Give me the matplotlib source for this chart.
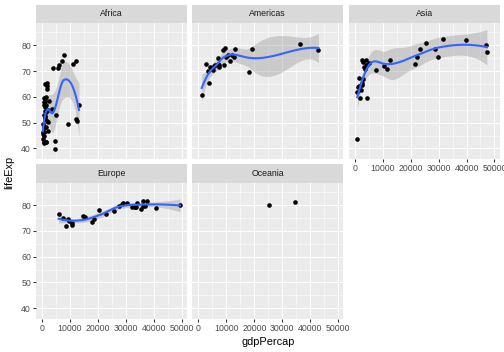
import numpy as np
import matplotlib
matplotlib.use("Agg")
import matplotlib.pyplot as plt

plt.rcParams['font.family'] = ['Liberation Sans', 'DejaVu Sans']

# gapminder 2007, gdpPercap / lifeExp per continent
africa_gdp = [6223.367, 4797.231, 1441.285, 12569.85, 1217.033, 430.07, 2042.095, 706.016,
              1704.064, 986.1479, 277.5519, 3632.558, 1544.75, 2082.482, 5581.181, 12154.09,
              641.3695, 690.8056, 13206.48, 752.7497, 1327.609, 942.6542, 579.2317, 1463.249,
              1569.331, 414.5073, 12057.5, 1044.77, 759.3499, 1042.582, 1803.151, 10956.99,
              3820.175, 823.6856, 4811.06, 619.6769, 2013.977, 7670.123, 863.0885, 1598.435,
              1712.472, 862.5408, 926.1411, 9269.658, 2602.395, 4513.481, 1107.482, 882.9699,
              7092.923, 1056.38, 1271.212, 469.7093]
africa_life = [72.301, 42.731, 56.728, 50.728, 52.295, 49.58, 50.43, 44.741,
               50.651, 65.152, 46.462, 55.322, 48.328, 54.791, 71.338, 51.579,
               58.04, 52.947, 56.735, 59.448, 60.022, 56.007, 46.388, 54.11,
               42.592, 45.678, 73.952, 59.443, 48.303, 54.467, 64.164, 72.801,
               71.164, 42.082, 52.906, 56.867, 46.859, 76.442, 46.242, 65.528,
               63.062, 42.568, 48.159, 49.339, 58.556, 39.613, 52.517, 58.42,
               73.923, 51.542, 42.384, 43.487]

americas_gdp = [12779.38, 3822.137, 9065.801, 36319.24, 13171.64, 7006.58, 9645.061, 8948.103,
                6025.375, 6873.262, 5728.354, 5186.05, 1201.637, 3548.331, 7320.88, 11977.57,
                2749.321, 9809.186, 4172.838, 7408.906, 19328.71, 18008.51, 42951.65, 10611.46,
                11415.81]
americas_life = [75.32, 65.554, 72.39, 80.653, 78.553, 72.889, 78.782, 78.273,
                 72.235, 74.994, 71.878, 70.259, 60.916, 70.198, 72.567, 76.195,
                 72.899, 75.537, 71.752, 71.421, 78.746, 69.819, 78.242, 76.384,
                 73.747]

asia_gdp = [974.5803, 29796.05, 1391.254, 1713.779, 4959.115, 39724.98, 2452.21, 3540.652,
            11605.71, 4471.062, 25523.28, 31656.07, 4519.461, 1593.065, 23348.14, 47306.99,
            10461.06, 12451.66, 3095.772, 944.0, 1091.36, 22316.19, 2605.948, 3190.481,
            21654.83, 47143.18, 3970.095, 4184.548, 28718.28, 7458.396, 2441.577, 3025.35,
            2280.77]
asia_life = [43.828, 75.635, 64.062, 59.723, 72.961, 82.208, 64.698, 70.65,
             70.964, 59.545, 80.745, 82.603, 72.535, 67.297, 78.623, 77.588,
             71.993, 74.241, 66.803, 62.069, 63.785, 75.64, 65.483, 71.688,
             72.777, 79.972, 72.396, 74.143, 78.4, 70.616, 74.249, 73.422,
             62.698]

europe_gdp = [5937.03, 36126.49, 33692.61, 7446.299, 10680.79, 14619.22, 22833.31, 35278.42,
              33207.08, 30470.02, 32170.37, 27538.41, 18008.94, 36180.79, 40676.0, 28569.72,
              9253.896, 36797.93, 49357.19, 15389.92, 20509.65, 10808.48, 9786.535, 18678.31,
              25768.26, 28821.06, 33859.75, 37506.42, 8458.276, 33203.26]
europe_life = [76.423, 79.829, 79.441, 74.852, 73.005, 75.748, 76.486, 78.332,
               79.313, 80.657, 79.406, 79.483, 73.338, 81.757, 78.885, 80.546,
               74.543, 79.762, 80.196, 75.563, 78.098, 72.476, 74.002, 74.663,
               77.926, 80.941, 80.884, 81.701, 71.777, 79.425]

oceania_gdp = [34435.37, 25185.01]
oceania_life = [81.235, 80.204]

continents = ["Africa", "Americas", "Asia", "Europe", "Oceania"]
gdp = [africa_gdp, americas_gdp, asia_gdp, europe_gdp, oceania_gdp]
life = [africa_life, americas_life, asia_life, europe_life, oceania_life]

x_breaks = [0, 10000, 20000, 30000, 40000, 50000]
y_breaks = [40, 50, 60, 70, 80]


def local_ops(x, x0, q):
    # local quadratic, tricube weights -> operators for value and slope
    d = np.abs(x - x0)
    h = np.sort(d)[q - 1]
    w = (1 - np.clip(d / h, 0, 1) ** 3) ** 3
    u = (x - x0) / 10000.0
    X = np.column_stack([np.ones(len(x)), u, u ** 2])
    XtW = X.T * w
    B = np.linalg.solve(XtW @ X, XtW)
    return B[0], B[1] / 10000.0


def kd_vertices(xsorted, fc):
    lo, hi = xsorted[0], xsorted[-1]
    mu = 0.005 * (hi - lo)
    verts = [lo - mu, hi + mu]

    def split(l, u, vlo, vhi):
        if u - l + 1 <= fc:
            return
        m = (l + u) // 2
        xm = xsorted[m]
        if xm == vlo or xm == vhi:
            return
        verts.append(xm)
        split(l, m, vlo, xm)
        split(m + 1, u, xm, vhi)

    split(0, len(xsorted) - 1, verts[0], verts[1])
    return np.array(sorted(verts))


def interp_rows(verts, V, S, z):
    # cubic hermite between kd-tree vertices (loess surface="interpolate")
    out = []
    for zz in z:
        j = min(max(np.searchsorted(verts, zz) - 1, 0), len(verts) - 2)
        v0, v1 = verts[j], verts[j + 1]
        hh = v1 - v0
        t = (zz - v0) / hh
        phi0 = (1 - t) ** 2 * (1 + 2 * t)
        phi1 = t ** 2 * (3 - 2 * t)
        psi0 = t * (1 - t) ** 2
        psi1 = -t ** 2 * (1 - t)
        out.append(phi0 * V[j] + phi1 * V[j + 1] + (psi0 * S[j] + psi1 * S[j + 1]) * hh)
    return np.array(out)


def t975(df):
    z = 1.959964
    g1 = (z**3 + z) / 4
    g2 = (5*z**5 + 16*z**3 + 3*z) / 96
    g3 = (3*z**7 + 19*z**5 + 17*z**3 - 15*z) / 384
    g4 = (79*z**9 + 776*z**7 + 1482*z**5 - 1920*z**3 - 945*z) / 92160
    return z + g1/df + g2/df**2 + g3/df**3 + g4/df**4


def smooth(x, y, span=0.75, cell=0.2):
    x = np.asarray(x, float)
    y = np.asarray(y, float)
    n = len(x)
    q = int(np.floor(n * span))
    fc = int(np.floor(n * span * cell))
    verts = kd_vertices(np.sort(x), fc)
    ops = [local_ops(x, v, q) for v in verts]
    V = np.array([o[0] for o in ops])
    S = np.array([o[1] for o in ops])
    xs = np.linspace(x.min(), x.max(), 80)
    Lg = interp_rows(verts, V, S, xs)
    Ld = interp_rows(verts, V, S, x)
    res = y - Ld @ y
    M = (np.eye(n) - Ld).T @ (np.eye(n) - Ld)
    d1 = np.trace(M)
    d2 = np.trace(M @ M)
    s = np.sqrt(np.sum(res ** 2) / d1)
    se = s * np.sqrt(np.sum(Lg ** 2, axis=1))
    fit = Lg @ y
    tq = t975(d1 ** 2 / d2)
    return xs, fit, fit - tq * se, fit + tq * se


smooths = [smooth(gx, ly) if len(gx) > 5 else None for gx, ly in zip(gdp, life)]

# shared scales, 5% expansion like ggplot
all_x = np.concatenate([np.asarray(g) for g in gdp])
all_y = np.concatenate([np.asarray(v) for v in life] +
                       [np.concatenate([sm[2], sm[3]]) for sm in smooths if sm is not None])
xr = all_x.max() - all_x.min()
yr = all_y.max() - all_y.min()
xlim = (all_x.min() - 0.05 * xr, all_x.max() + 0.05 * xr)
ylim = (all_y.min() - 0.05 * yr, all_y.max() + 0.05 * yr)

W, H = 504, 352
fig = plt.figure(figsize=(W / 72, H / 72), dpi=72)


def px_axes(left, top, w, h):
    return fig.add_axes([left / W, 1 - (top + h) / H, w / W, h / H])


left0, right_end, gap = 36, 499.5, 5.5
pw = (right_end - left0 - 2 * gap) / 3
strip_h = 18.8
ph = 135.5
row_tops = [4.5, 4.5 + strip_h + ph + gap]

for i, cont in enumerate(continents):
    r, c = divmod(i, 3)
    lx = left0 + c * (pw + gap)
    st = row_tops[r]
    sax = px_axes(lx, st, pw, strip_h)
    sax.set_facecolor('#D9D9D9')
    sax.set_xticks([])
    sax.set_yticks([])
    for sp in sax.spines.values():
        sp.set_visible(False)
    sax.text(0.5, 0.5, cont, ha='center', va='center', fontsize=8.8,
             color='#1A1A1A', transform=sax.transAxes)

    ax = px_axes(lx, st + strip_h, pw, ph)
    ax.set_facecolor('#EBEBEB')
    for sp in ax.spines.values():
        sp.set_visible(False)
    ax.set_xlim(xlim)
    ax.set_ylim(ylim)
    ax.set_xticks(x_breaks)
    ax.set_yticks(y_breaks)
    ax.set_xticks([b + 5000 for b in x_breaks[:-1]], minor=True)
    ax.set_yticks([b + 5 for b in y_breaks], minor=True)
    ax.grid(True, which='major', color='white', linewidth=1.07)
    ax.grid(True, which='minor', color='white', linewidth=0.53)
    ax.set_axisbelow(True)
    ax.tick_params(which='minor', length=0)
    ax.tick_params(which='major', length=2.75, width=1.07, color='#333333',
                   labelsize=8.8, labelcolor='#4D4D4D', pad=2.2)
    if c == 0:
        ax.set_yticklabels([str(b) for b in y_breaks])
    else:
        ax.tick_params(axis='y', which='major', length=0, labelleft=False)
    if r == 1 or c == 2:
        ax.set_xticklabels([str(b) for b in x_breaks])
    else:
        ax.tick_params(axis='x', which='major', length=0, labelbottom=False)

    sm = smooths[i]
    if sm is not None:
        xs, fit, lo, hi = sm
        ax.fill_between(xs, lo, hi, color='#999999', alpha=0.4, linewidth=0, zorder=2)
    ax.plot(gdp[i], life[i], 'o', color='black', markersize=4.6,
            markeredgewidth=0, zorder=3)
    if sm is not None:
        ax.plot(xs, fit, color='#3366FF', linewidth=2.1, zorder=4)

fig.text((left0 + right_end) / 2 / W, 1 - 342 / H, 'gdpPercap', ha='center',
         va='center', fontsize=11)
fig.text(9 / W, 1 - 172 / H, 'lifeExp', ha='center', va='center',
         rotation=90, fontsize=11)

fig.savefig('out.png', dpi=72, facecolor='white')
